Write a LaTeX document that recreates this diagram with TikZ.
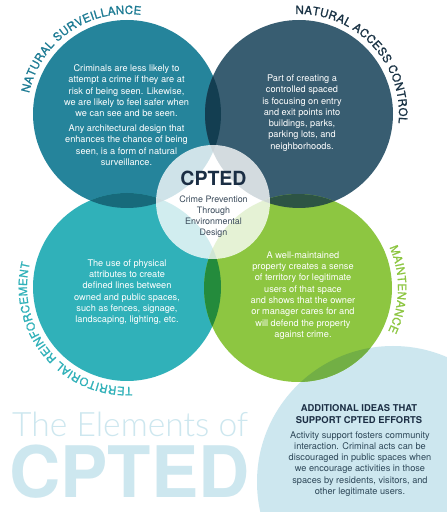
\documentclass[tikz,border=0pt]{standalone}
\usepackage{fontspec}
\setmainfont{TeX Gyre Heros}
\newfontfamily\titlefam{TeX Gyre Heros}[FakeBold=1.2]
\IfFontExistsTF{Lato Light}{\newfontfamily\thinfont{Lato Light}}{\newfontfamily\thinfont{TeX Gyre Heros}}
\usetikzlibrary{calc}
\definecolor{cTL}{HTML}{25849B}
\definecolor{cTR}{HTML}{385D71}
\definecolor{cBL}{HTML}{30B1B9}
\definecolor{cBR}{HTML}{8DC641}
\definecolor{cLB}{HTML}{CDE7EF}
\definecolor{oTLTR}{HTML}{133E51}
\definecolor{oTLBL}{HTML}{176A7B}
\definecolor{oBLBR}{HTML}{248B3C}
\definecolor{oTRBR}{HTML}{2D5444}
\definecolor{oBRLB}{HTML}{72AF45}
\definecolor{navy}{HTML}{1B2E44}
\definecolor{bodygray}{HTML}{2E4859}
\definecolor{ctext}{HTML}{3B4B5B}
\definecolor{tlTitle}{HTML}{1E7C94}
\definecolor{trTitle}{HTML}{1A3345}
\newcommand\titlefont{\titlefam\fontsize{11.5}{12}\selectfont}
\newcommand\spc{}
% #1 centre, #2 radius, #3 start angle, #4 colour, #5 tracking, #6 char/width list (Helvetica units)
\newcommand\arclabel[6]{%
  \xdef\curang{#3}%
  \foreach \ch/\w in {#6}{%
    \pgfmathsetmacro{\chw}{\w*11.5/1000}%
    \pgfmathsetmacro{\cang}{\curang-(\chw/2)/(#2)*57.29578}%
    \node[anchor=base, inner sep=0pt, rotate=\cang-90, text=#4, font=\titlefont] at ($(#1)+(\cang:#2)$) {\ch};
    \pgfmathsetmacro{\nang}{\curang-(\chw+#5)/(#2)*57.29578}%
    \xdef\curang{\nang}%
  }}
\begin{document}
\begin{tikzpicture}[x=1pt,y=1pt,
  body/.style={text=white, align=center, font=\fontsize{9.2}{11.3}\selectfont, inner sep=0pt}]
\useasboundingbox (0,0) rectangle (447,512);
\clip (0,0) rectangle (447,512);
\fill[white] (0,0) rectangle (447,512);
\coordinate (TL) at (127,398);
\coordinate (TR) at (299,398);
\coordinate (BL) at (127,225);
\coordinate (BR) at (298,224);
\coordinate (C) at (213,310);
\coordinate (LB) at (393,30);
% base circles
\fill[cLB] (LB) circle[radius=136];
\fill[cTL] (TL) circle[radius=94];
\fill[cTR] (TR) circle[radius=94];
\fill[cBL] (BL) circle[radius=94];
\fill[cBR] (BR) circle[radius=94];
% overlaps
\begin{scope}\clip (TL) circle[radius=94]; \fill[oTLTR] (TR) circle[radius=94]; \end{scope}
\begin{scope}\clip (TL) circle[radius=94]; \fill[oTLBL] (BL) circle[radius=94]; \end{scope}
\begin{scope}\clip (BL) circle[radius=94]; \fill[oBLBR] (BR) circle[radius=94]; \end{scope}
\begin{scope}\clip (TR) circle[radius=94]; \fill[oTRBR] (BR) circle[radius=94]; \end{scope}
\begin{scope}\clip (BR) circle[radius=94]; \fill[oBRLB] (LB) circle[radius=136]; \end{scope}
% centre circle
\fill[white, opacity=0.78] (C) circle[radius=57];
% curved titles
\arclabel{TL}{100}{168}{tlTitle}{0.3}{N/722,A/667,T/611,U/722,R/722,A/667,L/556,\spc/278,S/667,U/722,R/722,V/667,E/667,I/278,L/556,L/556,A/667,N/722,C/722,E/667}
\arclabel{TR}{100}{92}{trTitle}{0.3}{N/722,A/667,T/611,U/722,R/722,A/667,L/556,\spc/278,A/667,C/722,C/722,E/667,S/667,S/667,\spc/278,C/722,O/778,N/722,T/611,R/722,O/778,L/556}
\arclabel{BL}{100}{-87}{cBL}{0.3}{T/611,E/667,R/722,R/722,I/278,T/611,O/778,R/722,I/278,A/667,L/556,\spc/278,R/722,E/667,I/278,N/722,F/611,O/778,R/722,C/722,E/667,M/833,E/667,N/722,T/611}
\arclabel{BR}{100}{24}{cBR}{0.3}{M/833,A/667,I/278,N/722,T/611,E/667,N/722,A/667,N/722,C/722,E/667}
% body texts
\node[body] (tltext) at (126.5,397) {Criminals are less likely to\\attempt a crime if they are at\\risk of being seen. Likewise,\\we are likely to feel safer when\\we can see and be seen.\\[3.5pt]Any architectural design that\\enhances the chance of being\\seen, is a form of natural\\surveillance.};
\node[body] (trtext) at (302,399) {Part of creating a\\controlled spaced\\is focusing on entry\\and exit points into\\buildings, parks,\\parking lots, and\\neighborhoods.};
\node[body] (bltext) at (127,220) {The use of physical\\attributes to create\\defined lines between\\owned and public spaces,\\such as fences, signage,\\landscaping, lighting, etc.};
\node[body] (brtext) at (303,216.5) {A well-maintained\\property creates a sense\\of territory for legitimate\\users of that space\\and shows that the owner\\or manager cares for and\\will defend the property\\against crime.};
% centre text
\node[font=\bfseries\fontsize{19.5}{20}\selectfont, text=navy, anchor=base, inner sep=0pt] (cpted) at (213.5,326) {CPTED};
\node[align=center, font=\fontsize{8.9}{11}\selectfont, text=ctext, anchor=north, inner sep=0pt] (cptedsub) at (213.5,316) {Crime Prevention\\Through\\Environmental\\Design};
% additional ideas
\node[font=\bfseries\fontsize{9.4}{12}\selectfont, text=navy, align=center, inner sep=0pt] (addtitle) at (359,98) {ADDITIONAL IDEAS THAT\\SUPPORT CPTED EFFORTS};
\node[font=\fontsize{9.2}{11.2}\selectfont, text=bodygray, align=center, inner sep=0pt] (addbody) at (360,48) {Activity support fosters community\\interaction. Criminal acts can be\\discouraged in public spaces when\\we encourage activities in those\\spaces by residents, visitors, and\\other legitimate users.};
% big title
\node[anchor=base west, inner sep=0pt, font=\thinfont\fontsize{33.6}{34}\selectfont, text=cLB] (elements) at (12,75) {The Elements of};
\node[anchor=base west, inner sep=0pt, font=\bfseries\fontsize{71}{71}\selectfont, text=cLB] (bigcpted) at (9,15) {CPTED};
\end{tikzpicture}
\end{document}
